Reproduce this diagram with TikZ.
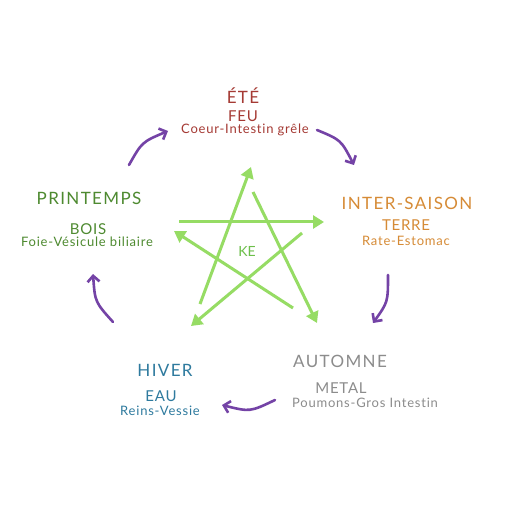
\documentclass[tikz,border=0pt]{standalone}
\usepackage{fontspec}
\setmainfont{Lato}[Ligatures=NoCommon]
\newfontfamily\ttlfont[LetterSpace=8,Ligatures=NoCommon]{Lato}
\newfontfamily\elemfont[LetterSpace=5,Ligatures=NoCommon]{Lato}
\newfontfamily\organfont[LetterSpace=6,Ligatures=NoCommon]{Lato}
\usetikzlibrary{arrows.meta}
\definecolor{cred}{HTML}{A53A34}
\definecolor{corange}{HTML}{D68B36}
\definecolor{cgray}{HTML}{8C8C8C}
\definecolor{cblue}{HTML}{2E7A9E}
\definecolor{cgreen}{HTML}{4E8A30}
\definecolor{cstar}{HTML}{96DC64}
\definecolor{cke}{HTML}{6CBF4A}
\definecolor{cpurple}{HTML}{7443A6}
\tikzset{
  ttl/.style={inner sep=0pt, font=\ttlfont\fontsize{17}{19}\selectfont},
  elem/.style={inner sep=0pt, font=\elemfont\fontsize{15}{17}\selectfont},
  organ/.style={inner sep=0pt, font=\organfont\fontsize{13}{15}\selectfont},
  kelabel/.style={inner sep=0pt, font=\fontsize{14}{16}\selectfont},
  kearrow/.style={draw=cstar, line width=3pt, -{Triangle[length=11pt,width=13pt]}},
  cycarrow/.style={draw=cpurple, line width=2.6pt, line cap=round, -{Straight Barb[length=6pt,width=12pt]}}
}
\begin{document}
\begin{tikzpicture}[x=1pt,y=-1pt]
\useasboundingbox (0,0) rectangle (507,510);
\fill[white] (0,0) rectangle (507,510);
% texts
\node[ttl, text=cred] (ete) at (243,96) {ÉTÉ};
\node[elem, text=cred] (feu) at (243,116) {FEU};
\node[organ, text=cred] (coeur) at (245,130) {Coeur-Intestin grêle};
\node[ttl, text=corange] (inter) at (407,203) {INTER-SAISON};
\node[elem, text=corange] (terre) at (406,225) {TERRE};
\node[organ, text=corange] (rate) at (406,241) {Rate-Estomac};
\node[ttl, text=cgray] (automne) at (340,361) {AUTOMNE};
\node[elem, text=cgray] (metal) at (341,388) {METAL};
\node[organ, text=cgray] (poumons) at (365,403) {Poumons-Gros Intestin};
\node[ttl, text=cblue] (hiver) at (165,370) {HIVER};
\node[elem, text=cblue] (eau) at (161,396) {EAU};
\node[organ, text=cblue] (reins) at (160,411) {Reins-Vessie};
\node[ttl, text=cgreen] (printemps) at (89,198) {PRINTEMPS};
\node[elem, text=cgreen] (bois) at (88,229) {BOIS};
\node[organ, text=cgreen] (foie) at (87,242) {Foie-Vésicule biliaire};
\node[kelabel, text=cke] (ke) at (247,251) {KE};
% star coordinates
\coordinate (h1) at (179,222); \coordinate (h2) at (324,222);
\coordinate (u1) at (200,304); \coordinate (u2) at (251,167);
\coordinate (d1) at (253,192); \coordinate (d2) at (317,323);
\coordinate (l1) at (293,308); \coordinate (l2) at (174,231);
\coordinate (s1) at (302,233); \coordinate (s2) at (191,326);
\draw[kearrow] (h1) -- (h2);
\draw[kearrow] (u1) -- (u2);
\draw[kearrow] (d1) -- (d2);
\draw[kearrow] (l1) -- (l2);
\draw[kearrow] (s1) -- (s2);
% cycle arrows
\coordinate (a1) at (129,165); \coordinate (b1) at (168,131);
\coordinate (a2) at (317,130); \coordinate (b2) at (354,165);
\coordinate (a3) at (388,275); \coordinate (b3) at (373,323);
\coordinate (a4) at (275,400); \coordinate (b4) at (222,405);
\coordinate (a5) at (113,322); \coordinate (b5) at (93,274);
\draw[cycarrow] (a1) .. controls (142,142) .. (b1);
\draw[cycarrow] (a2) .. controls (341,140) .. (b2);
\draw[cycarrow] (a3) .. controls (388,302) .. (b3);
\draw[cycarrow] (a4) .. controls (250,412) .. (b4);
\draw[cycarrow] (a5) .. controls (95,302) .. (b5);
\end{tikzpicture}
\end{document}
